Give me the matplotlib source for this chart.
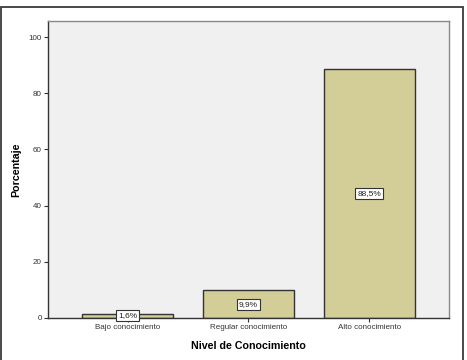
import matplotlib
matplotlib.use("Agg")
import matplotlib.pyplot as plt
from matplotlib.patches import Rectangle

categories = ["Bajo conocimiento", "Regular conocimiento", "Alto conocimiento"]
values = [1.6, 9.9, 88.5]
labels = ["1,6%", "9,9%", "88,5%"]
yticks = [0, 20, 40, 60, 80, 100]

plt.rcParams['font.family'] = ['Liberation Sans', 'DejaVu Sans']

W, H = 467, 360
fig = plt.figure(figsize=(W/100, H/100), dpi=100)
fig.patch.set_facecolor('white')

# outer frame
fig.patches.append(Rectangle((1/W, -0.05), 462/W, (H-7)/H + 0.05, transform=fig.transFigure,
                             fill=False, edgecolor='#3a3a3a', linewidth=1.3, zorder=0))

ax = fig.add_axes([48/W, 1 - 318/H, (449-48)/W, (318-21)/H])
ax.set_facecolor('#f0f0f0')
x = list(range(len(categories)))
ax.bar(x, values, width=0.75, color='#d3ce97', edgecolor='#333333', linewidth=1.0, zorder=2)
for xi, v, lab in zip(x, values, labels):
    ax.text(xi, v/2, lab, ha='center', va='center', fontsize=6, color='#222222', zorder=3,
            bbox=dict(boxstyle='square,pad=0.25', facecolor='white', edgecolor='#333333', linewidth=0.8))

ax.set_xlim(-0.66, 2.66)
ax.set_ylim(0, 105.7)
ax.set_yticks(yticks)
ax.set_yticklabels([str(t) for t in yticks], fontsize=5.8, color='#333333')
ax.set_xticks(x)
ax.set_xticklabels(categories, fontsize=5.8, color='#333333')
ax.tick_params(axis='both', length=3, width=0.8, color='#333333', pad=1.5)
for s in ['left', 'bottom']:
    ax.spines[s].set_color('#333333')
    ax.spines[s].set_linewidth(1.0)
for s in ['top', 'right']:
    ax.spines[s].set_color('#888888')
    ax.spines[s].set_linewidth(1.0)

ax.set_ylabel('Porcentaje', fontsize=7.7, fontweight='bold', labelpad=5)
ax.set_xlabel('Nivel de Conocimiento', fontsize=7.7, fontweight='bold', labelpad=7)

fig.savefig('out.png', dpi=100)
